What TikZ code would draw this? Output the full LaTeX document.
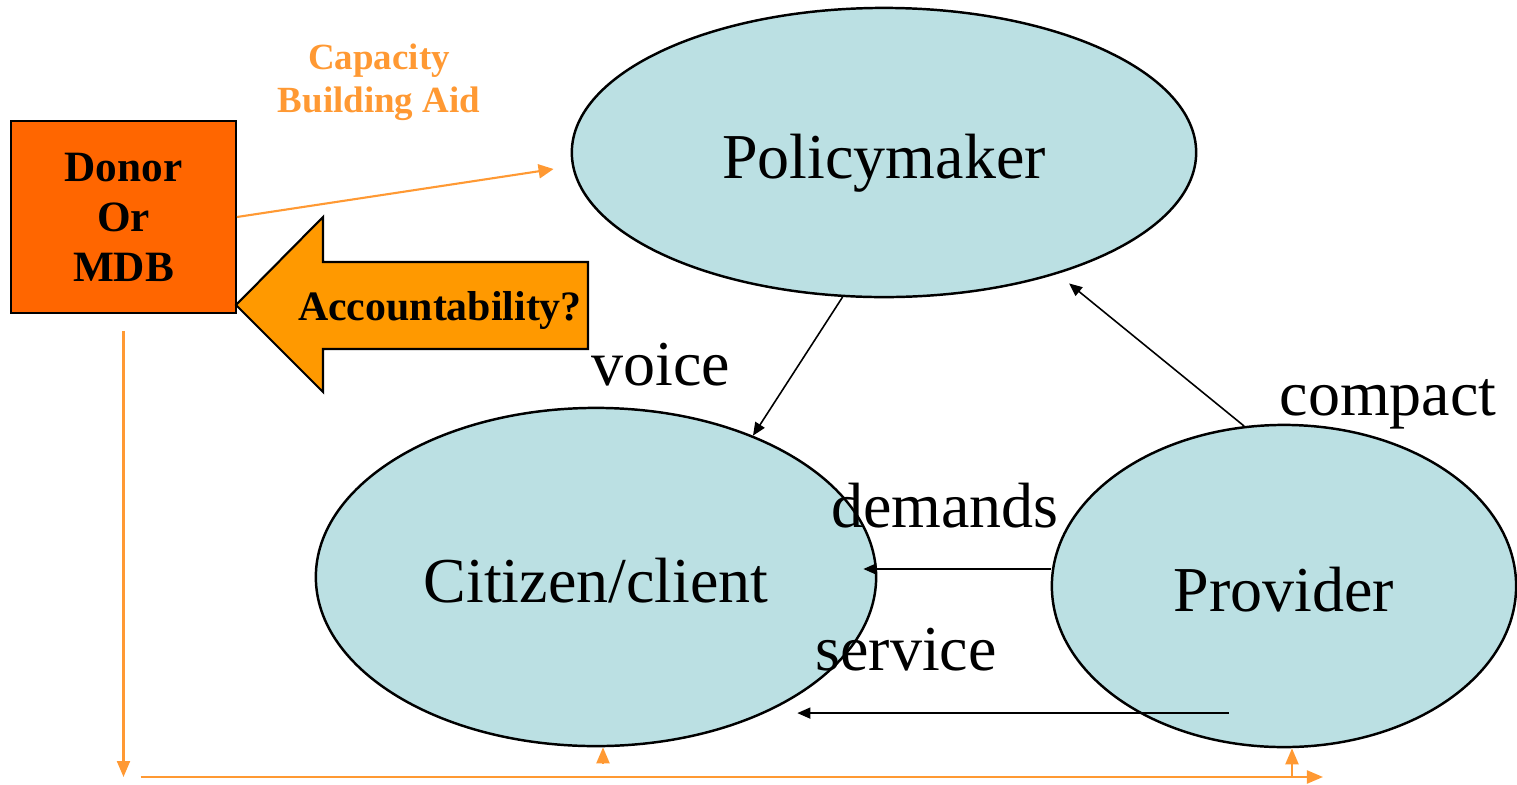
\documentclass[tikz,border=0pt]{standalone}
\usepackage{fontspec}
\setmainfont{Liberation Serif}
\usepackage{tikz}
\usetikzlibrary{arrows.meta,positioning,calc,shapes.geometric}
\definecolor{actorblue}{HTML}{BBE0E3}
\definecolor{donororange}{HTML}{FF6600}
\definecolor{accorange}{HTML}{FF9900}
\definecolor{aidorange}{HTML}{FF9933}

\begin{document}
\begin{tikzpicture}[x=0.01cm, y=-0.01cm,
	actor/.style={draw, ellipse, fill=actorblue, line width=0.7pt, inner sep=0pt, font=\fontsize{18.2}{22}\selectfont, text height=0.51cm, text depth=0pt},
	lbl/.style={font=\fontsize{18.2}{22}\selectfont, anchor=base, inner sep=0pt},
	arr/.style={-{Triangle[length=1.3mm, width=1.1mm]}, line width=0.45pt},
	aid/.style={draw=aidorange, line width=0.6pt, -{Triangle[length=1.6mm, width=1.3mm]}}]
	\useasboundingbox (0,0) rectangle (1517,784);
	\node[draw, fill=donororange, minimum width=2.25cm, minimum height=1.92cm, align=center, line width=0.5pt, font=\bfseries\fontsize{12.3}{14.2}\selectfont] (don) at (123.5,217) {Donor\\Or\\MDB};
	\node[text=aidorange, align=center, font=\bfseries\fontsize{10.5}{12.2}\selectfont] (cba) at (379,82) {Capacity\\Building Aid};
	\node[actor, minimum width=6.24cm, minimum height=2.89cm] (pol) at (884,152.5) {Policymaker};
	\node[actor, minimum width=5.6cm, minimum height=3.38cm] (cit) at (596,577) {Citizen/client};
	\node[actor, minimum width=4.64cm, minimum height=3.22cm] (prov) at (1284,586) {Provider};
	\draw[fill=accorange, line width=0.6pt] (236,305) -- (323,217) -- (323,262) -- (588,262) -- (588,349) -- (323,349) -- (323,392) -- cycle;
	\node[anchor=base, font=\bfseries\fontsize{11.9}{14}\selectfont] (acc) at (440,320) {Accountability?};
	\node[lbl] (vo) at (661,385) {voice};
	\node[lbl] (cp) at (1388,415) {compact};
	\node[lbl] (dm) at (945,527) {demands};
	\node[lbl] (sv) at (906,670) {service};
	\draw[arr] (pol.254) -- (cit.42);
	\draw[arr, shorten >=0.15cm] (prov.104) -- (pol.325);
	\coordinate (dmA) at ([yshift=0.17cm]prov.west);
	\draw[arr, shorten >=-0.14cm] (dmA) -- (dmA -| cit.east);
	\coordinate (svA) at ([xshift=-0.55cm,yshift=-1.27cm]prov.center);
	\draw[arr, shorten >=-0.8cm] (svA) -- (svA -| cit.east);
	\draw[aid, -{Triangle[length=1.5mm, width=1.4mm]}] (don.east) -- ([xshift=-0.17cm,yshift=-0.165cm]pol.west);
	\coordinate (rail) at (1323,777);
	\coordinate (railA) at (don.south |- rail);
	\coordinate (pv) at ([xshift=0.08cm]prov.south);
	\draw[aid] ([yshift=-0.17cm]don.south) -- (railA);
	\draw[aid] ([xshift=0.17cm]railA) -- (rail);
	\draw[aid] (pv |- rail) -- (pv);
	\draw[aid] ([xshift=0.07cm,yshift=-0.16cm]cit.south) -- ([xshift=0.07cm]cit.south);
\end{tikzpicture}
\end{document}
